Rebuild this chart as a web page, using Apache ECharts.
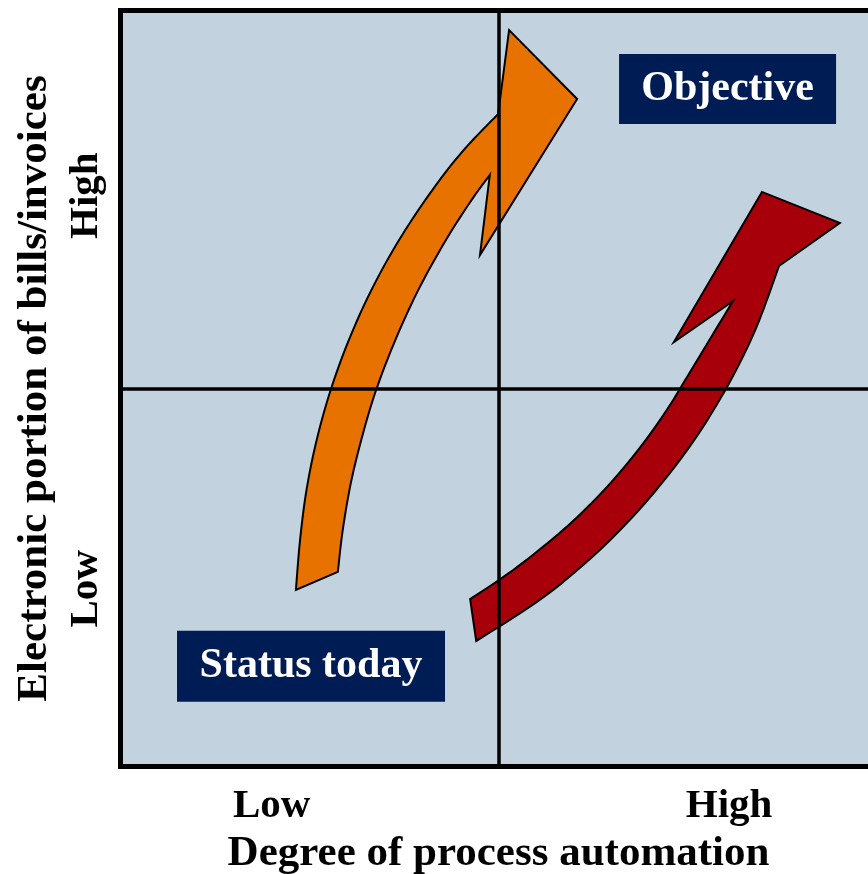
<!DOCTYPE html>
<html><head><meta charset="utf-8">
<script src="https://cdn.jsdelivr.net/npm/echarts@6/dist/echarts.min.js"></script>
<style>html,body{margin:0;padding:0;background:#fff}#c{width:868px;height:874px}</style>
</head><body><div id="c"></div>
<script>
// ---- data (axis units 0..200, quadrant divider at 100) ----
const xTickValues = [40, 161];
const xTickLabels = ['Low', 'High'];
const yTickValues = [47, 151];
const yTickLabels = ['Low', 'High'];
const xName = 'Degree of process automation';
const yName = 'Electronic portion of bills/invoices';
const dividerX = 100;
const dividerY = 100;

// orange arrow outline: outer edge (tail -> neck), head, inner edge (neck -> tail)
const orangeOuter = [[46.4,46.7],[47.5,59.9],[49.2,73.1],[51.9,86.4],[55.6,99.6],[60.4,112.8],[66.4,126.1],[73.7,139.3],[82.5,152.5],[90.8,163.1],[99.9,172.6]];
const orangeHead  = [[102.8,194.8],[120.8,176.6],[95.1,135.3]];
const orangeInner = [[97.7,156.5],[92.9,149.9],[86.1,139.3],[78.8,126.1],[72.7,112.8],[67.8,100.1],[64.4,89.0],[61.1,75.8],[58.8,62.6],[57.5,51.5]];

// red arrow outline: upper edge (tail -> neck), head, lower edge (neck -> tail)
const redUpper = [[92.5,44.3],[103.9,52.0],[117.1,62.6],[127.9,73.1],[136.9,83.7],[144.5,94.3],[151.0,104.9],[162.0,123.1]];
const redHead  = [[146.4,112.3],[169.7,152.0],[190.3,143.8]];
const redLower = [[174.2,132.4],[169.0,118.1],[164.2,107.5],[158.5,97.0],[151.8,86.4],[143.9,75.8],[134.7,65.2],[123.9,54.6],[110.8,44.0],[94.1,33.2]];

const labelNames = ['Objective', 'Status today'];
const labelPos = [[160.6,179.2],[50.4,26.5]];

// ---- chart ----
const FONT = '"Liberation Serif","Times New Roman",serif';
const chart = echarts.init(document.getElementById('c'));

function smooth(p){
  const out = []; const n = p.length;
  for (let i = 0; i < n - 1; i++) {
    const p0 = p[Math.max(i-1,0)], p1 = p[i], p2 = p[i+1], p3 = p[Math.min(i+2,n-1)];
    for (let k = 0; k < 10; k++) {
      const t = k/10, t2 = t*t, t3 = t2*t;
      const f = (a,b,c,d) => 0.5*((2*b)+(-a+c)*t+(2*a-5*b+4*c-d)*t2+(-a+3*b-3*c+d)*t3);
      out.push([f(p0[0],p1[0],p2[0],p3[0]), f(p0[1],p1[1],p2[1],p3[1])]);
    }
  }
  out.push(p[n-1]);
  return out;
}

function arrowSeries(name, edgeA, head, edgeB, color){
  return {
    type: 'custom', name: name, z: 3, silent: true, data: [[0,0]],
    renderItem: function(params, api){
      const P = a => a.map(v => api.coord(v));
      const pts = [].concat(smooth(P(edgeA)), P(head), smooth(P(edgeB)));
      return { type: 'polygon', shape: { points: pts },
        style: { fill: color, stroke: '#000', lineWidth: 2, lineJoin: 'miter' } };
    }
  };
}

const labelSizes = [[217,70],[268,71]];

chart.setOption({
  animation: false,
  backgroundColor: '#ffffff',
  grid: { left: 120.5, top: 10.5, width: 756, height: 756, show: true, outerBoundsMode: 'none',
          containLabel: false,
          backgroundColor: '#c2d3df', borderColor: '#000', borderWidth: 5 },
  xAxis: {
    type: 'value', min: 0, max: 200,
    axisLine: { show: false }, axisTick: { show: false }, splitLine: { show: false },
    axisLabel: { customValues: xTickValues, formatter: v => { const i = xTickValues.indexOf(v); return i >= 0 ? xTickLabels[i] : ''; },
      color: '#000', fontFamily: FONT, fontWeight: 'bold', fontSize: 41, margin: 19 },
    name: xName, nameLocation: 'middle', nameGap: 66,
    nameTextStyle: { color: '#000', fontFamily: FONT, fontWeight: 'bold', fontSize: 43 }
  },
  yAxis: {
    type: 'value', min: 0, max: 200,
    axisLine: { show: false }, axisTick: { show: false }, splitLine: { show: false },
    axisLabel: { customValues: yTickValues, rotate: 90, formatter: v => { const i = yTickValues.indexOf(v); return i >= 0 ? yTickLabels[i] : ''; },
      color: '#000', fontFamily: FONT, fontWeight: 'bold', fontSize: 41, margin: 14 },
    name: yName, nameLocation: 'middle', nameGap: 64,
    nameTextStyle: { color: '#000', fontFamily: FONT, fontWeight: 'bold', fontSize: 43 }
  },
  series: [
    { type: 'scatter', z: 1, silent: true, data: [], symbolSize: 0,
      markLine: { silent: true, symbol: ['none','none'], animation: false,
        label: { show: false }, emphasis: { disabled: true },
        lineStyle: { color: '#000', width: 3.5, type: 'solid' },
        data: [ { xAxis: dividerX }, { yAxis: dividerY } ] } },
    arrowSeries('automation path', orangeOuter, orangeHead, orangeInner, '#e87200'),
    arrowSeries('electronic path', redUpper, redHead, redLower, '#a8000b'),
    { type: 'scatter', z: 5, silent: true, symbol: 'rect',
      symbolSize: (v, p) => labelSizes[p.dataIndex],
      itemStyle: { color: '#001c54', opacity: 1 },
      emphasis: { disabled: true },
      label: { show: true, position: 'inside', formatter: '{b}', color: '#fff',
        fontFamily: FONT, fontWeight: 'bold', fontSize: 42 },
      data: labelPos.map((p, i) => ({ name: labelNames[i], value: p })) }
  ]
});
</script>
</body></html>
